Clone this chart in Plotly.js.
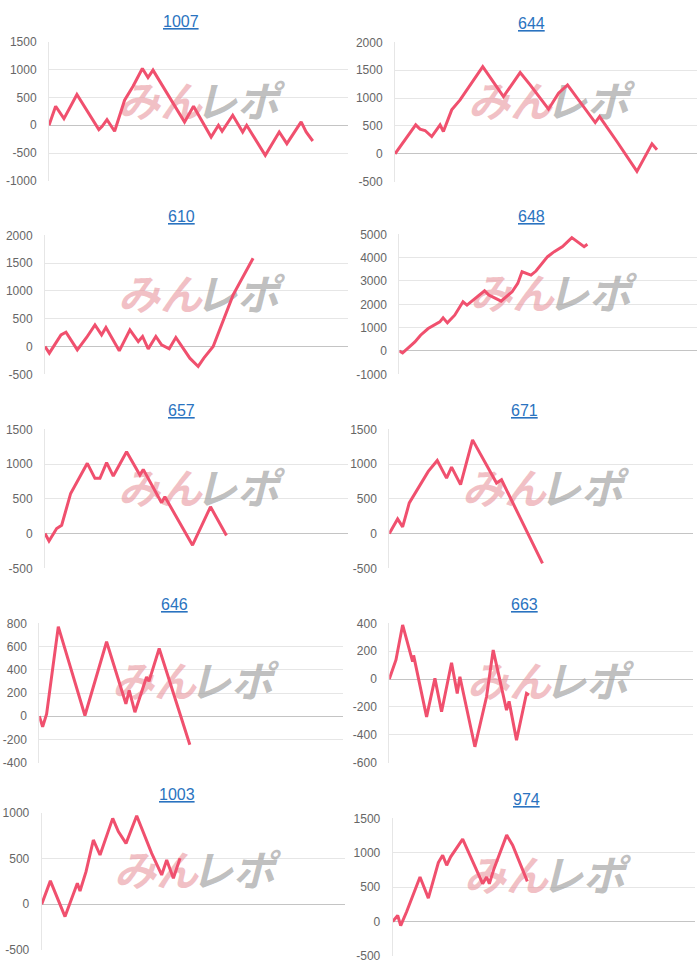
<!DOCTYPE html>
<html>
<head>
<meta charset="utf-8">
<script src="https://cdn.plot.ly/plotly-3.0.1.min.js"></script>
<style>
html,body{margin:0;padding:0;background:#fff;}
#chart{width:700px;height:968px;}
</style>
</head>
<body>
<div id="chart"></div>
<script>
// ---- DATA (x = games, y = coin difference) ----
const titles = ["1007", "644", "610", "648", "657", "671", "646", "663", "1003", "974"];

const x1007 = [0, 200, 450, 840, 1500, 1600, 1745, 1975, 2275, 2530, 2810, 2980, 3130, 4080, 4350, 4880, 5100, 5210, 5530, 5830, 5950, 6510, 6930, 7160, 7590, 7740, 7940];
const y1007 = [0, 342, 120, 552, -78, -18, 102, -108, 450, 700, 1020, 858, 990, 60, 342, -210, 0, -108, 180, -120, 0, -540, -120, -330, 60, -120, -282];
const ticks1007 = [-1000, -500, 0, 500, 1000, 1500];

const x644 = [0, 617, 746, 895, 1094, 1343, 1442, 1690, 1940, 2615, 3232, 3730, 4028, 4575, 4873, 5142, 5967, 6096, 6613, 7210, 7658, 7807];
const y644 = [0, 520, 442, 418, 310, 520, 400, 788, 967, 1564, 1027, 1457, 1236, 800, 1087, 1236, 561, 669, 221, -316, 179, 72];
const ticks644 = [-500, 0, 500, 1000, 1500, 2000];

const x610 = [0, 128, 475, 623, 960, 1236, 1484, 1681, 1810, 2206, 2522, 2770, 2898, 3066, 3293, 3462, 3689, 3887, 4302, 4550, 4717, 4995, 5588, 6181];
const y610 = [0, -120, 210, 258, -60, 162, 389, 210, 341, -78, 300, 90, 180, -42, 180, 30, -42, 162, -210, -359, -210, 0, 928, 1587];
const ticks610 = [-500, 0, 500, 1000, 1500, 2000];

const x648 = [0, 100, 271, 471, 642, 873, 1224, 1324, 1454, 1675, 1926, 2046, 2578, 2708, 3079, 3410, 3581, 3711, 3982, 4132, 4483, 4684, 4935, 5216, 5587, 5687];
const y648 = [0, -86, 129, 387, 674, 960, 1247, 1419, 1204, 1533, 2106, 1963, 2580, 2393, 2135, 2536, 2895, 3396, 3253, 3425, 4041, 4256, 4471, 4858, 4471, 4571];
const ticks648 = [-1000, 0, 1000, 2000, 3000, 4000, 5000];

const x657 = [0, 119, 346, 495, 762, 1256, 1484, 1632, 1830, 2028, 2423, 2819, 2918, 3462, 3561, 4382, 4916, 5390];
const y657 = [0, -106, 72, 120, 577, 1010, 794, 794, 1020, 827, 1178, 842, 923, 442, 529, -168, 385, -29];
const ticks657 = [-500, 0, 500, 1000, 1500];

const x671 = [0, 247, 395, 592, 1155, 1421, 1697, 1845, 2112, 2467, 3178, 3326, 4540];
const y671 = [0, 210, 96, 440, 894, 1052, 798, 956, 703, 1348, 727, 774, -430];
const ticks671 = [-500, 0, 500, 1000, 1500];

const x646 = [0, 99, 217, 563, 1352, 1994, 2566, 2665, 2833, 3178, 3250, 3553, 4461];
const y646 = [0, -90, 20, 771, 6, 641, 107, 222, 35, 338, 300, 583, -245];
const ticks646 = [-400, -200, 0, 200, 400, 600, 800];

const x663 = [0, 197, 395, 592, 691, 720, 1105, 1352, 1549, 1845, 2013, 2092, 2536, 2882, 3079, 3474, 3550, 3770, 3967, 4066, 4140];
const y663 = [0, 137, 388, 208, 125, 170, -271, 5, -235, 117, -103, 17, -486, -127, 208, -223, -160, -438, -199, -103, -115];
const ticks663 = [-600, -400, -200, 0, 200, 400];

const x1003 = [0, 257, 692, 1058, 1137, 1315, 1533, 1731, 2107, 2275, 2502, 2819, 3264, 3560, 3709, 3907, 4105];
const y1003 = [0, 255, -135, 229, 145, 356, 702, 538, 938, 793, 665, 967, 556, 320, 484, 284, 502];
const ticks1003 = [-500, 0, 500, 1000];

const x974 = [0, 149, 238, 417, 813, 1061, 1359, 1488, 1607, 1726, 2083, 2678, 2797, 2877, 3016, 3393, 3571, 4008];
const y974 = [0, 88, -58, 146, 648, 341, 857, 964, 818, 940, 1198, 550, 648, 550, 769, 1256, 1110, 584];
const ticks974 = [-500, 0, 500, 1000, 1500];

const xMax = 9000;
const markLeft = 'みん';
const markRight = 'レポ';

// ---- LAYOUT (pixel boxes of each panel) ----
const W = 700, H = 968;
const panels = [
  {xs: x1007, ys: y1007, ticks: ticks1007, box: [49, 348, 41.7, 181], title: [181, 22], mark: [198, 102.5]},
  {xs: x644,  ys: y644,  ticks: ticks644,  box: [395, 697, 42.3, 181.7], title: [531, 23.3], mark: [548, 102.5]},
  {xs: x610,  ys: y610,  ticks: ticks610,  box: [45, 348, 235.3, 374.3], title: [181, 216.3], mark: [198, 296]},
  {xs: x648,  ys: y648,  ticks: ticks648,  box: [399.3, 697, 234.3, 374.3], title: [531, 216], mark: [550, 295]},
  {xs: x657,  ys: y657,  ticks: ticks657,  box: [45, 348, 429.3, 568.3], title: [181, 410.3], mark: [198, 490]},
  {xs: x671,  ys: y671,  ticks: ticks671,  box: [389.3, 693, 429.3, 568.3], title: [524, 410.7], mark: [542, 490]},
  {xs: x646,  ys: y646,  ticks: ticks646,  box: [39.3, 343, 623.3, 762.7], title: [174, 604], mark: [192, 683]},
  {xs: x663,  ys: y663,  ticks: ticks663,  box: [389.3, 693, 623.3, 762.7], title: [524, 604], mark: [547, 683]},
  {xs: x1003, ys: y1003, ticks: ticks1003, box: [41.7, 345, 812.7, 950], title: [176.7, 794.3], mark: [194, 872]},
  {xs: x974,  ys: y974,  ticks: ticks974,  box: [392.7, 695, 818.3, 956], title: [526.7, 799], mark: [544, 877]}
];

const traces = [];
const layout = {
  width: W, height: H,
  margin: {l: 0, r: 0, t: 0, b: 0},
  paper_bgcolor: '#ffffff', plot_bgcolor: 'rgba(0,0,0,0)',
  showlegend: false,
  font: {family: 'Liberation Sans, Arial, sans-serif', size: 12, color: '#666666'},
  annotations: []
};

const markFont = 'Noto Sans CJK JP, Noto Sans CJK SC, sans-serif';

panels.forEach((p, i) => {
  const n = i === 0 ? '' : String(i + 1);
  const [L, R, T, B] = p.box;
  const tmin = Math.min(...p.ticks), tmax = Math.max(...p.ticks);
  // watermark position converted into this panel's data space (drawn beneath the line)
  const pxToX = v => (v - L) / (R - L) * xMax;
  const pxToY = v => tmax - (v - T) / (B - T) * (tmax - tmin);
  const my = pxToY(p.mark[1] + 4);
  traces.push({
    type: 'scatter', mode: 'text',
    x: [pxToX(p.mark[0] + 4)], y: [my], text: ['<b>' + markLeft + '</b>'],
    textposition: 'middle left',
    textfont: {family: markFont, size: 42, color: 'rgba(233,150,158,0.6)', style: 'italic', weight: 900},
    xaxis: 'x' + n, yaxis: 'y' + n, hoverinfo: 'skip', cliponaxis: false
  });
  traces.push({
    type: 'scatter', mode: 'text',
    x: [pxToX(p.mark[0] - 3)], y: [my], text: ['<b>' + markRight + '</b>'],
    textposition: 'middle right',
    textfont: {family: markFont, size: 42, color: 'rgba(155,155,155,0.65)', style: 'italic', weight: 900},
    xaxis: 'x' + n, yaxis: 'y' + n, hoverinfo: 'skip', cliponaxis: false
  });
  traces.push({
    type: 'scatter', mode: 'lines',
    x: p.xs, y: p.ys,
    xaxis: 'x' + n, yaxis: 'y' + n,
    line: {color: '#f0506e', width: 3, shape: 'linear'},
    hoverinfo: 'skip'
  });
  layout['xaxis' + n] = {
    domain: [L / W, R / W],
    range: [0, xMax],
    anchor: 'y' + n,
    showgrid: false, zeroline: false, showline: false,
    showticklabels: false, ticks: '', fixedrange: true
  };
  layout['yaxis' + n] = {
    domain: [1 - B / H, 1 - T / H],
    range: [tmin, tmax],
    anchor: 'x' + n,
    tickmode: 'array',
    tickvals: p.ticks,
    ticktext: p.ticks.map(v => String(v)),
    showgrid: true, gridcolor: '#e6e6e6', gridwidth: 1,
    zeroline: true, zerolinecolor: '#c4c4c4', zerolinewidth: 1,
    showline: true, linecolor: '#e6e6e6', linewidth: 1,
    ticks: '', ticklabelstandoff: 9,
    tickfont: {family: 'Liberation Sans, Arial, sans-serif', size: 12, color: '#666666'},
    fixedrange: true
  };
  // title (underlined link style)
  layout.annotations.push({
    xref: 'paper', yref: 'paper',
    x: p.title[0] / W, y: 1 - p.title[1] / H,
    xanchor: 'center', yanchor: 'middle',
    showarrow: false,
    text: titles[i],
    font: {family: 'Liberation Sans, Arial, sans-serif', size: 16, color: '#2a73c0', lineposition: 'under'}
  });
});

Plotly.newPlot('chart', traces, layout, {staticPlot: true, displayModeBar: false});
</script>
</body>
</html>
